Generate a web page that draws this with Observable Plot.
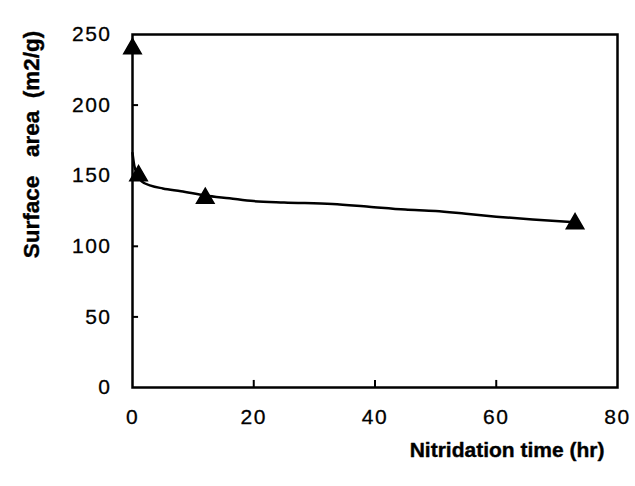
<!DOCTYPE html>
<html>
<head>
<meta charset="utf-8">
<script src="https://cdn.jsdelivr.net/npm/d3@7"></script>
<script src="https://cdn.jsdelivr.net/npm/@observablehq/plot@0.6"></script>
<style>
  body { margin: 0; background: #fff; }
  svg { font-family: "Liberation Sans", Arial, sans-serif; }
</style>
</head>
<body>
<div id="chart"></div>
<script>
// Measured points (triangles)
const timeHr = [0, 1, 12, 73];
const surfaceArea = [240, 150, 134, 116];

// Fitted curve
const fitTime = [0, 0.3, 0.8, 1.5, 3, 5, 8, 12, 16, 20, 25, 33, 39, 45, 50, 55, 60, 66, 73];
const fitArea = [166, 157, 151, 146, 143, 141, 139, 136, 134, 132, 131, 130, 128, 126, 125, 123, 121, 119, 117];

const xTicks = [0, 20, 40, 60, 80];
const yTicks = [0, 50, 100, 150, 200, 250];

const xLabel = "Nitridation time (hr)";
const yLabel = "Surface\u00a0\u00a0\u00a0area\u00a0\u00a0(m2/g)";

const points = timeHr.map((t, i) => ({t, a: surfaceArea[i]}));
const fit = fitTime.map((t, i) => ({t, a: fitArea[i]}));

const chart = Plot.plot({
  width: 635,
  height: 486,
  marginLeft: 132,
  marginRight: 18,
  marginTop: 34,
  marginBottom: 99,
  x: {domain: [0, 80]},
  y: {domain: [0, 250]},
  style: {fontSize: "21px", color: "#000", background: "#fff"},
  marks: [
    Plot.axisX({ticks: xTicks, tickSize: 0, tickPadding: 22, label: null, fontSize: 21}),
    Plot.axisY({ticks: yTicks, tickSize: 0, tickPadding: 21, label: null, fontSize: 21}),
    Plot.ruleX(xTicks.slice(1, -1), {x: d => d, y1: 0, y2: 5, stroke: "#000", strokeWidth: 2}),
    Plot.ruleY(yTicks.slice(1, -1), {y: d => d, x1: 0, x2: 1, stroke: "#000", strokeWidth: 2}),
    Plot.frame({stroke: "#000", strokeWidth: 2.5}),
    Plot.line(fit, {x: "t", y: "a", curve: "monotone-x", stroke: "#000", strokeWidth: 2.5}),
    Plot.dot(points, {x: "t", y: "a", symbol: "triangle", r: 6.5, fill: "#000", stroke: "#000"}),
    Plot.text([xLabel], {frameAnchor: "bottom-right", textAnchor: "end", dx: -13, dy: 69, fontSize: 21, fontWeight: "bold", fill: "#000", stroke: "#000", strokeWidth: 0.4}),
    Plot.text([yLabel], {frameAnchor: "top-left", textAnchor: "middle", rotate: -90, dx: -109, dy: 110, fontSize: 22.5, fontWeight: "bold", fill: "#000", stroke: "#000", strokeWidth: 0.4})
  ]
});
chart.querySelectorAll("g[aria-label='x-axis tick label'] text, g[aria-label='y-axis tick label'] text").forEach(t => {
  t.setAttribute("letter-spacing", "1.5");
  t.setAttribute("stroke", "#000");
  t.setAttribute("stroke-width", "0.3");
});
document.getElementById("chart").appendChild(chart);
</script>
</body>
</html>
